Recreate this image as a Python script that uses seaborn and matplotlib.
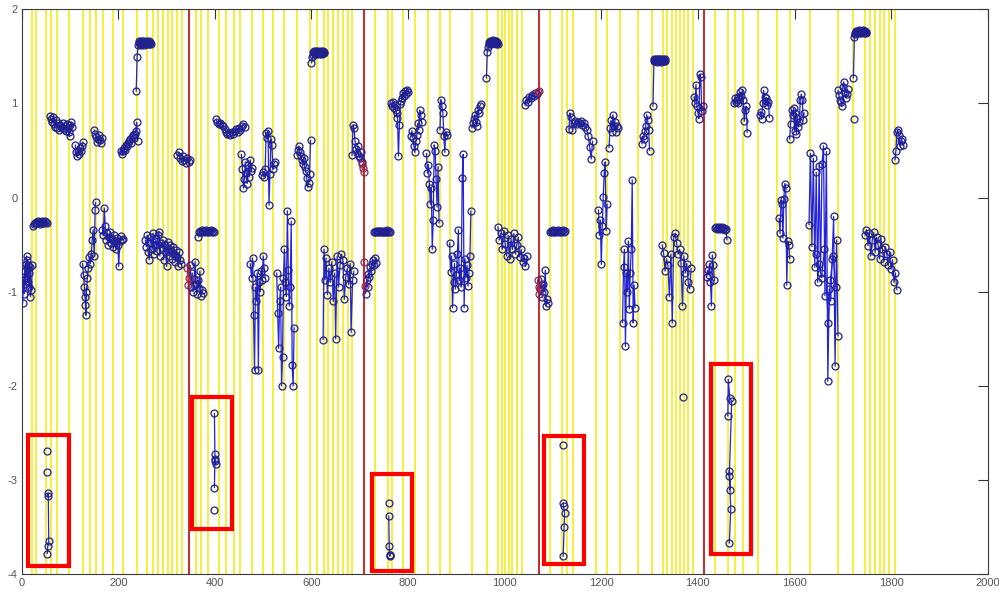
import matplotlib
matplotlib.use("Agg")
import numpy as np
import pandas as pd
import matplotlib.pyplot as plt
import seaborn as sns
from matplotlib.patches import Rectangle

# ---------------- data (sample index, value); None separates runs ----------------
seg1_x = [
    2, 3, 4, 5, 6, 7, 8, 9, 10, 11, 12, 13, 14, 15, 16, 17, 18, 20, 22, None,
    23, 25, 27, 29, 31, 33, 35, 37, 39, 41, 43, 45, 47, 49, 51, 53, None,
    52, None,
    52, None,
    54, 55, 56, 54, 53, None,
    59, 61, 63, 65, 67, 69, 71, 73, 75, 77, 79, 81, 83, 85, 87, 89, 91, 93, 95, 97, 99, 101, 103, 105, None,
    111, 113, 115, 117, 119, 121, 123, 125, 127, None,
    126, 128, 130, 131, 132, 133, 134, 136, 138, 140, 142, 144, 146, 148, 150, 152, 153, None,
    150, 152, 154, 156, 158, 160, 162, 164, 166, None,
    167, 169, 171, 173, 175, 177, 179, 181, 183, 185, 187, 189, 191, 193, 195, 197, 199, 201, 203, 205, 207, 209, None,
    206, 208, 210, 212, 214, 216, 218, 220, 222, 224, 226, 228, 230, 232, 234, 236, 238, 240, None,
    237, 239, 241, 242, 243, 244, 245, 246, 247, 248, 249, 250, 251, 252, 253, 254, 255, 256, 257, 258,
    259, 260, 261, 262, 263, 264, 265, 266, 267, None,
    256, 258, 260, 262, 264, 266, 268, 270, 272, 274, 276, 278, 280, 282, 284, 286, 288, 290, 292, 294,
    296, 298, 300, 302, 304, 306, 308, 310, 312, 314, 316, 318, 320, 322, 324, 326, 328, 330, None,
    322, 325, 328, 331, 334, 337, 340, 343, 346, 349,
]
seg1_y = [
    -1.12, -0.95, -0.88, -1.02, -0.78, -0.92, -0.70, -0.85, -0.62, -0.75, -0.66, -0.90, -0.72, -0.80, -0.95, -0.74, -1.05, -0.98, -0.72, None,
    -0.30, -0.28, -0.27, -0.26, -0.27, -0.25, -0.26, -0.28, -0.26, -0.27, -0.25, -0.26, -0.27, -0.25, -0.26, -0.27, None,
    -2.69, None,
    -2.91, None,
    -3.17, -3.14, -3.65, -3.70, -3.78, None,
    0.87, 0.84, 0.80, 0.86, 0.78, 0.75, 0.82, 0.74, 0.79, 0.72, 0.77, 0.76, 0.74, 0.79, 0.73, 0.76, 0.71, 0.78, 0.74, 0.70, 0.65, 0.77, 0.80, 0.75, None,
    0.56, 0.48, 0.44, 0.50, 0.46, 0.53, 0.49, 0.55, 0.59, None,
    -0.70, -0.82, -0.95, -1.05, -1.14, -1.25, -1.00, -0.85, -0.75, -0.63, -0.70, -0.60, -0.45, -0.34, -0.62, -0.13, -0.05, None,
    0.72, 0.68, 0.64, 0.59, 0.62, 0.66, 0.61, 0.58, 0.63, None,
    -0.34, -0.40, -0.11, -0.30, -0.45, -0.38, -0.50, -0.42, -0.36, -0.48, -0.44, -0.52, -0.40, -0.46, -0.55, -0.43, -0.50, -0.73, -0.46, -0.41, -0.45, -0.44, None,
    0.50, 0.46, 0.49, 0.53, 0.51, 0.56, 0.55, 0.58, 0.60, 0.62, 0.58, 0.64, 0.66, 0.63, 0.68, 0.71, 0.80, 0.60, None,
    1.13, 1.49, 1.62, 1.64, 1.66, 1.63, 1.65, 1.64, 1.62, 1.66, 1.64, 1.63, 1.65, 1.66, 1.64, 1.62, 1.65, 1.64, 1.63, 1.66,
    1.64, 1.65, 1.63, 1.64, 1.66, 1.63, 1.65, 1.64, 1.63, None,
    -0.45, -0.52, -0.40, -0.58, -0.66, -0.48, -0.42, -0.55, -0.38, -0.60, -0.50, -0.44, -0.57, -0.40, -0.36, -0.62, -0.48, -0.53, -0.45, -0.66,
    -0.50, -0.58, -0.73, -0.47, -0.55, -0.62, -0.50, -0.57, -0.65, -0.52, -0.60, -0.68, -0.56, -0.63, -0.73, -0.58, -0.66, -0.70, None,
    0.45, 0.48, 0.42, 0.39, 0.44, 0.40, 0.37, 0.42, 0.38, 0.40,
]

seg2_x = [
    349, 351, 353, 355, 357, 359, 361, 363, 365, 367, 369, 371, 373, 375, None,
    366, 368, 370, 372, 374, 376, 378, 380, 382, 384, 386, 388, 390, 392, 394, 396, 398, None,
    399, 400, 401, 402, 400, 399, None,
    398, None,
    402, 405, 408, 411, 414, 417, 420, 423, 426, 429, 432, 435, 438, 441, 444, 447, 450, 453, 456, 459, 462, None,
    455, 457, 459, 461, 463, 465, 467, 469, 471, 473, 475, 477, None,
    473, 476, 478, 480, 482, 484, 486, 488, 490, 492, 494, 496, 498, 500, 502, 504, None,
    498, 500, 502, 504, 506, 508, 510, 512, 514, 516, 518, 520, 522, 524, None,
    528, 530, 532, 534, 536, 538, 540, 542, 544, 546, 548, 550, 552, 554, 556, 558, 560, 562, 564, None,
    570, 572, 574, 576, 578, 580, 582, 584, 586, 588, 590, 592, 594, 596, 598, None,
    600, 602, 603, 604, 605, 606, 607, 608, 609, 610, 611, 612, 613, 614, 615, 616, 617, 618, 619, 620,
    621, 622, 623, 624, 625, 626, None,
    624, 626, 628, 630, 633, 636, 639, 642, 645, 648, 650, 653, 656, 659, 662, 665, 668, 671, 674, 677, 680, 682, 685, 688, None,
    684, 686, 688, 690, 692, 694, 696, 698, 700, 702, 704,
]
seg2_y = [
    -0.72, -0.95, -0.80, -1.00, -0.86, -0.68, -0.92, -1.02, -0.88, -0.96, -0.78, -1.04, -0.98, -1.01, None,
    -0.42, -0.37, -0.35, -0.36, -0.34, -0.35, -0.36, -0.35, -0.34, -0.36, -0.35, -0.37, -0.35, -0.34, -0.36, -0.35, -0.36, None,
    -2.29, -2.72, -2.80, -2.83, -2.78, -3.08, None,
    -3.32, None,
    0.83, 0.80, 0.78, 0.79, 0.77, 0.76, 0.73, 0.70, 0.68, 0.69, 0.67, 0.70, 0.68, 0.71, 0.73, 0.70, 0.74, 0.72, 0.76, 0.78, 0.75, None,
    0.46, 0.30, 0.10, 0.20, 0.38, 0.26, 0.15, 0.35, 0.22, 0.40, 0.28, 0.32, None,
    -0.70, -0.85, -0.64, -1.25, -1.83, -0.95, -1.10, -0.80, -1.83, -0.90, -1.00, -0.78, -0.88, -0.62, -0.75, -0.85, None,
    0.24, 0.27, 0.22, 0.30, 0.69, 0.63, 0.71, -0.08, 0.25, 0.62, 0.56, 0.30, 0.36, 0.38, None,
    -0.80, -1.23, -1.60, -1.10, -0.95, -2.00, -1.69, -0.85, -0.55, -0.90, -1.05, -0.14, -0.77, -1.15, -0.95, -0.25, -1.78, -2.00, -1.38, None,
    0.45, 0.51, 0.55, 0.48, 0.44, 0.40, 0.36, 0.42, 0.33, 0.28, 0.21, 0.11, 0.16, 0.25, 0.61, None,
    1.43, 1.49, 1.52, 1.55, 1.54, 1.56, 1.53, 1.55, 1.54, 1.56, 1.55, 1.53, 1.54, 1.56, 1.55, 1.54, 1.53, 1.55, 1.56, 1.54,
    1.55, 1.53, 1.54, 1.56, 1.55, 1.54, None,
    -1.51, -0.55, -0.87, -0.64, -1.03, -0.75, -0.90, -0.68, -1.10, -0.80, -1.50, -0.62, -0.95, -0.72, -0.60, -0.66, -1.08, -0.84, -0.75, -0.92, -0.70, -1.43, -0.88, -0.78, None,
    0.45, 0.77, 0.74, 0.60, 0.52, 0.47, 0.55, 0.44, 0.42, 0.48, 0.38,
]

seg3_x = [
    712, 714, 716, 718, 720, 722, 724, 726, 728, 730, 732, 734, None,
    730, 732, 734, 736, 738, 740, 742, 744, 746, 748, 750, 752, 754, 756, 758, 760, 762, None,
    760, None,
    760, 761, 762, 763, 762, None,
    764, 766, 768, 770, 772, 774, 776, 778, 780, 782, 784, 786, 788, 790, 792, 794, 796, 798, 800, None,
    806, 808, 810, 812, 814, 816, 818, 820, 822, 824, 826, 828, None,
    838, 840, 842, 844, 846, 848, 850, 852, 854, 856, 858, 860, 862, 864, None,
    866, 868, 870, 872, 874, 876, 878, 880, None,
    886, 888, 890, 892, 894, 896, 898, 900, 902, 904, 906, 908, 910, 912, 914, 916, 918, 920, 922, 924, 926, 928, 930, None,
    932, 934, 936, 938, 940, 942, 944, 946, 948, 950, None,
    962, 964, 966, 967, 968, 969, 970, 971, 972, 973, 974, 975, 976, 977, 978, 979, 980, 981, 982, 983,
    984, 985, 986, None,
    986, 989, 992, 995, 998, 1001, 1004, 1007, 1010, 1013, 1016, 1019, 1022, 1025, 1028, 1031, 1034, 1037, 1040, 1043, 1046, None,
    1042, 1045, 1048, 1051, 1054, 1057, 1060, 1063, 1066,
]
seg3_y = [
    -1.02, -0.88, -0.95, -0.81, -0.84, -0.74, -0.78, -0.70, -0.66, -0.72, -0.64, -0.69, None,
    -0.37, -0.36, -0.35, -0.36, -0.35, -0.36, -0.35, -0.36, -0.35, -0.36, -0.37, -0.35, -0.36, -0.34, -0.36, -0.35, -0.37, None,
    -3.24, None,
    -3.38, -3.70, -3.80, -3.79, -3.81, None,
    1.00, 0.97, 1.02, 0.95, 0.98, 0.93, 0.90, 0.85, 0.44, 0.77, 0.99, 1.03, 1.06, 1.11, 1.08, 1.13, 1.10, 1.14, 1.12, None,
    0.65, 0.71, 0.63, 0.55, 0.48, 0.60, 0.66, 0.79, 0.72, 0.93, 0.88, 0.80, None,
    0.47, 0.26, 0.35, 0.15, -0.07, 0.10, -0.55, -0.24, 0.56, 0.50, 0.20, -0.10, 0.33, -0.27, None,
    0.72, 1.04, 0.97, 0.90, 0.65, 0.48, 0.70, 0.66, None,
    -0.48, -0.79, -0.62, -1.17, -0.90, -0.70, -0.97, -0.82, -0.60, -0.34, -0.88, -0.75, -0.95, 0.21, 0.46, -1.17, -0.65, -0.85, -0.72, -0.94, -0.80, -0.62, -0.14, None,
    0.74, 0.79, 0.83, 0.88, 0.80, 0.76, 0.93, 0.90, 0.97, 0.99, None,
    1.27, 1.55, 1.60, 1.63, 1.65, 1.64, 1.66, 1.65, 1.63, 1.66, 1.64, 1.65, 1.67, 1.64, 1.65, 1.66, 1.64, 1.63, 1.65, 1.66,
    1.64, 1.65, 1.63, None,
    -0.31, -0.45, -0.38, -0.55, -0.35, -0.49, -0.62, -0.40, -0.65, -0.44, -0.55, -0.38, -0.60, -0.50, -0.42, -0.63, -0.55, -0.68, -0.64, -0.73, -0.62, None,
    0.98, 1.04, 1.02, 1.07, 1.06, 1.09, 1.08, 1.11, 1.10,
]

seg4_x = [
    1074, 1076, 1078, 1080, 1082, 1084, 1086, 1088, 1090, None,
    1093, 1095, 1097, 1099, 1101, 1103, 1105, 1107, 1109, 1111, 1113, 1115, 1117, 1119, 1121, 1123, 1125, None,
    1121, None,
    1121, 1122, 1124, 1123, 1121, None,
    1133, 1135, 1137, 1140, 1143, 1146, 1149, 1152, 1155, 1158, 1161, 1164, 1167, 1170, 1173, 1176, 1179, 1182, None,
    1194, 1196, 1198, 1200, 1202, 1204, 1206, 1208, 1210, 1212, None,
    1216, 1218, 1220, 1222, 1224, 1226, 1228, 1230, 1232, 1234, None,
    1244, 1246, 1248, 1250, 1252, 1254, 1256, 1258, 1260, 1262, 1264, 1266, 1268, 1270, None,
    1284, 1286, 1288, 1290, 1292, 1294, 1296, 1298, 1300, None,
    1307, 1309, 1310, 1311, 1312, 1313, 1314, 1315, 1316, 1317, 1318, 1319, 1320, 1321, 1322, 1323, 1324, 1325, 1326, 1327,
    1328, 1329, 1330, 1331, 1332, None,
    1326, 1329, 1332, 1335, 1338, 1341, 1344, 1347, 1350, 1353, 1356, 1359, 1362, 1365, 1368, 1371, 1374, 1377, 1380, 1383, 1386, None,
    1370, None,
    1392, 1394, 1396, 1398, 1400, 1402, 1404, 1406, 1408, 1410,
]
seg4_y = [
    -0.97, -0.86, -1.06, -0.92, -1.00, -0.77, -1.15, -1.08, -1.12, None,
    -0.36, -0.35, -0.36, -0.34, -0.35, -0.36, -0.35, -0.36, -0.35, -0.34, -0.36, -0.35, -0.36, -0.35, -0.34, -0.36, -0.35, None,
    -2.63, None,
    -3.24, -3.28, -3.35, -3.50, -3.81, None,
    0.73, 0.90, 0.86, 0.72, 0.79, 0.81, 0.78, 0.80, 0.79, 0.81, 0.77, 0.79, 0.75, 0.72, 0.65, 0.54, 0.41, 0.60, None,
    -0.13, -0.40, -0.24, -0.71, -0.30, 0.01, 0.26, 0.38, -0.35, -0.07, None,
    0.53, 0.74, 0.82, 0.70, 0.88, 0.76, 0.80, 0.70, 0.76, 0.74, None,
    -1.33, -0.74, -0.55, -1.58, -0.80, -1.00, -0.46, -1.18, -0.80, -0.55, 0.19, -1.33, -0.93, -1.17, None,
    0.57, 0.65, 0.62, 0.71, 0.76, 0.88, 0.82, 0.72, 0.50, None,
    0.97, 1.45, 1.47, 1.46, 1.45, 1.47, 1.46, 1.44, 1.46, 1.47, 1.45, 1.46, 1.47, 1.45, 1.46, 1.44, 1.47, 1.46, 1.45, 1.47,
    1.46, 1.45, 1.46, 1.47, 1.45, None,
    -0.50, -0.59, -0.78, -0.65, -0.72, -1.05, -0.60, -1.33, -0.42, -0.38, -0.48, -0.60, -0.55, -0.69, -1.15, -0.62, -0.80, -0.70, -0.90, -0.97, -0.75, None,
    -2.12, None,
    1.07, 1.00, 1.20, 0.97, 0.90, 0.84, 1.31, 1.28, 0.92, 0.97,
]

seg5_x = [
    1418, 1420, 1422, 1424, 1426, 1428, 1430, 1432, 1434, None,
    1436, 1438, 1440, 1442, 1444, 1446, 1448, 1450, 1452, 1454, 1456, 1458, 1460, None,
    1462, 1463, 1466, 1470, 1465, 1467, 1465, 1468, 1465, None,
    1474, 1476, 1478, 1480, 1482, 1484, 1486, 1488, 1490, 1492, 1494, 1496, 1498, 1500, 1502, None,
    1528, 1530, 1532, 1534, 1536, 1538, 1540, 1542, 1544, 1546, 1548, None,
    1568, 1570, 1572, 1574, 1576, 1578, 1580, 1582, 1584, 1586, 1588, 1590, None,
    1590, 1592, 1594, 1596, 1598, 1600, 1602, 1604, 1606, 1608, 1610, 1612, 1614, 1616, 1618, 1620, None,
    1630, 1633, 1636, 1639, 1642, 1645, 1648, 1651, 1654, 1657, 1660, 1663, 1666, 1669, 1672, 1675, 1678, 1681, 1684, 1687, 1690, None,
    1644, 1650, 1656, 1662, 1670, 1674, 1680, 1686, None,
    1690, 1692, 1694, 1696, 1698, 1700, 1702, 1704, 1706, 1708, 1710, None,
    1723, None,
    1722, 1724, 1725, 1726, 1727, 1728, 1729, 1730, 1731, 1732, 1733, 1734, 1735, 1736, 1737, 1738, 1739, 1740, 1741, 1742,
    1743, 1744, 1745, 1746, 1747, 1748, None,
    1746, 1749, 1752, 1755, 1758, 1761, 1764, 1767, 1770, 1773, 1776, 1779, 1782, 1785, 1788, 1791, 1794, 1797, 1800, 1803, 1806, 1809, 1812, None,
    1808, 1810, 1812, 1814, 1816, 1818, 1820, 1822, 1824,
]
seg5_y = [
    -0.84, -0.77, -0.82, -0.70, -0.90, -1.15, -0.61, -0.72, -0.88, None,
    -0.32, -0.31, -0.33, -0.32, -0.31, -0.33, -0.32, -0.31, -0.33, -0.32, -0.34, -0.33, -0.45, None,
    -2.32, -1.93, -2.13, -2.16, -2.96, -3.10, -2.90, -3.31, -3.67, None,
    1.00, 1.06, 1.02, 1.04, 1.00, 1.07, 1.05, 1.12, 1.08, 1.14, 1.04, 0.81, 0.93, 0.97, 0.69, None,
    0.88, 0.91, 0.84, 1.00, 1.14, 1.07, 1.03, 1.06, 0.98, 1.02, 0.85, None,
    -0.22, -0.38, -0.03, -0.07, -0.43, -0.01, 0.15, 0.10, -0.93, -0.46, -0.50, -0.65, None,
    0.62, 0.78, 0.93, 0.88, 0.95, 0.71, 0.90, 0.68, 0.85, 0.75, 0.80, 1.04, 1.10, 1.04, 0.82, 0.90, None,
    -0.29, 0.47, -0.52, 0.42, -0.74, 0.27, -0.90, 0.34, -0.80, 0.36, 0.55, -1.04, 0.49, -1.95, -0.97, -1.10, -0.65, -0.20, -1.79, -0.45, -1.47, None,
    -0.60, -0.70, -0.85, -0.55, -1.33, -0.88, -0.62, -0.95, None,
    1.14, 1.09, 1.04, 1.02, 0.97, 1.18, 1.23, 1.11, 1.06, 1.10, 1.15, None,
    0.84, None,
    1.27, 1.71, 1.74, 1.75, 1.76, 1.77, 1.76, 1.75, 1.77, 1.76, 1.78, 1.75, 1.76, 1.77, 1.76, 1.75, 1.77, 1.76, 1.78, 1.76,
    1.75, 1.77, 1.76, 1.77, 1.75, 1.76, None,
    -0.40, -0.34, -0.51, -0.38, -0.62, -0.45, -0.37, -0.58, -0.42, -0.50, -0.65, -0.44, -0.55, -0.68, -0.52, -0.60, -0.72, -0.58, -0.76, -0.66, -0.90, -0.80, -0.98, None,
    0.40, 0.50, 0.70, 0.72, 0.67, 0.55, 0.60, 0.62, 0.56,
]

# runs drawn in red where the series crosses a block boundary
red_run_x = [343, 345, 347, None, 705, 707, 709, None, 708, 710, None, 1068, 1070, None, 1068, 1070, 1072]
red_run_y = [-0.75, -0.93, -0.85, None, 0.36, 0.31, 0.27, None, -0.68, -0.94, None, 1.12, 1.13, None, -0.88, -1.02, -0.95]

# vertical markers
yellow_x = [22, 30, 51, 60, 74, 98, 126, 141, 153, 168, 190, 209, 238, 260, 272, 283, 292, 303, 312, 321, 331,
            360, 372, 386, 408, 424, 440, 452, 477, 500, 521, 544, 570, 596, 612, 626, 635, 645, 655, 665, 675, 684,
            731, 759, 766, 790, 814, 842, 866, 887, 932, 963, 987, 994, 1001, 1008, 1015, 1025, 1035,
            1094, 1118, 1128, 1142, 1190, 1211, 1239, 1277, 1304, 1328, 1337, 1346, 1355, 1363, 1371, 1380, 1390,
            1435, 1463, 1477, 1494, 1525, 1564, 1591, 1632, 1691, 1722, 1746, 1756, 1767, 1777, 1785, 1796, 1808]
divider_x = [346, 708, 1071, 1413]

# highlighted outlier boxes
box_x0 = [14, 353, 726, 1082, 1427]
box_x1 = [97, 436, 809, 1165, 1510]
box_y0 = [-3.91, -3.52, -3.96, -3.89, -3.78]
box_y1 = [-2.52, -2.12, -2.93, -2.53, -1.765]

x_ticks = [0, 200, 400, 600, 800, 1000, 1200, 1400, 1600, 1800, 2000]
y_ticks = [-4, -3, -2, -1, 0, 1, 2]
y_tick_labels = ["-4", "-3", "-2", "-1", "0", "1", "2"]


def runs_frame(xs, ys, tag):
    assert len(xs) == len(ys)
    assert all((a is None) == (b is None) for a, b in zip(xs, ys))
    rows, cid = [], 0
    for x, y in zip(xs, ys):
        if x is None:
            cid += 1
            continue
        rows.append((x, y, f"{tag}{cid}"))
    return pd.DataFrame(rows, columns=["x", "y", "run"])


df_blue = pd.concat([
    runs_frame(seg1_x, seg1_y, "a"),
    runs_frame(seg2_x, seg2_y, "b"),
    runs_frame(seg3_x, seg3_y, "c"),
    runs_frame(seg4_x, seg4_y, "d"),
    runs_frame(seg5_x, seg5_y, "e"),
], ignore_index=True)
df_red = runs_frame(red_run_x, red_run_y, "r")

sns.set_theme(style="white")
plt.rcParams["font.family"] = ["Liberation Sans", "DejaVu Sans"]
plt.rcParams["axes.unicode_minus"] = False

fig = plt.figure(figsize=(9.99, 5.92), dpi=100)
fig.patch.set_facecolor("white")
ax = fig.add_axes([0.02172, 0.0299, 0.96697, 0.95439])
ax.set_facecolor("white")

ax.vlines(yellow_x, -4, 2, colors="#f4f03c", linewidth=1.4, zorder=1)
ax.vlines(divider_x, -4, 2, colors="#c42a2a", linewidth=1.4, zorder=2)

line_kws = dict(marker="o", markersize=5, markerfacecolor="none",
                markeredgewidth=0.9, linewidth=0.9)
sns.lineplot(data=df_blue, x="x", y="y", units="run", estimator=None, sort=False,
             color="#2323d8", markeredgecolor="#20208e", legend=False, ax=ax,
             zorder=3, **line_kws)
sns.lineplot(data=df_red, x="x", y="y", units="run", estimator=None, sort=False,
             color="#d42020", markeredgecolor="#8a2a50", legend=False, ax=ax,
             zorder=3, **line_kws)

for x0, x1, y0, y1 in zip(box_x0, box_x1, box_y0, box_y1):
    ax.add_patch(Rectangle((x0, y0), x1 - x0, y1 - y0, fill=False,
                           edgecolor="#ff0000", linewidth=3.0, zorder=5))

ax.set_xlim(0, 2000)
ax.set_ylim(-4, 2)
ax.set_xticks(x_ticks)
ax.set_xticklabels([str(v) for v in x_ticks])
ax.set_yticks(y_ticks)
ax.set_yticklabels(y_tick_labels)
ax.set_xlabel("")
ax.set_ylabel("")
ax.tick_params(direction="in", length=7, width=0.8, color="#333333",
               labelcolor="#555555", labelsize=8, top=True, right=True, pad=3)
for s in ax.spines.values():
    s.set_visible(True)
    s.set_color("#3a3a3a")
    s.set_linewidth(0.8)

fig.savefig("out.png", dpi=100, facecolor="white")
